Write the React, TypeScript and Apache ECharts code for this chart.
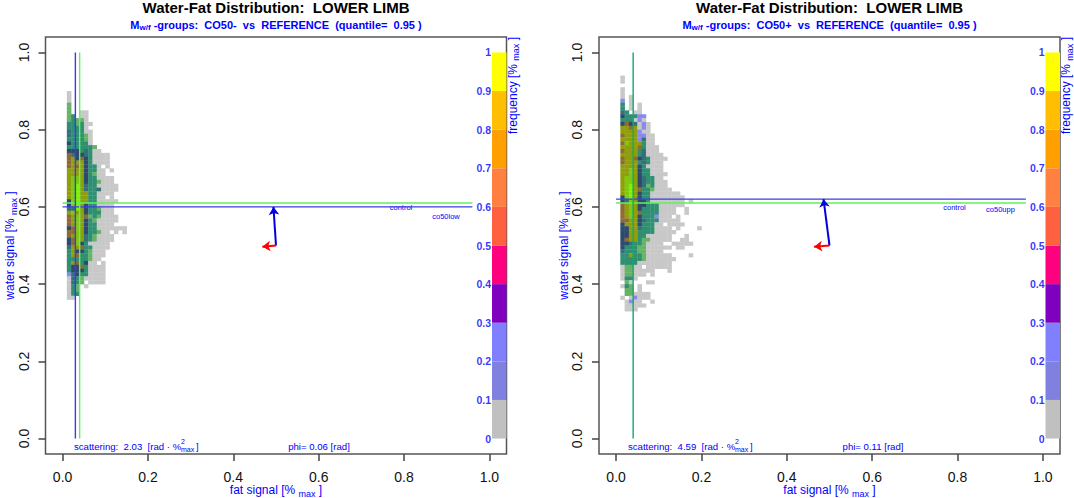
import { useEffect, useRef } from 'react'
import * as echarts from 'echarts'

// cell codes used in the row strings below, one char per 0.01 of fat signal
const cellCodes = 'gvltdnboyY'
const cellColors = ['#c8c8c8', '#8a8aee', '#66b266', '#2f8f72', '#35707a', '#2d4a6c', '#8f6a35', '#8f9f0c', '#7fc810', '#80f000']

// rows run downwards, the first one starts at firstRowTop and each is 0.01 of water signal high
const leftFirstRowTop = 0.9
const leftRows = [
  'g', 'g', 'g', 'l', 'l', 'l  gg', 'lt gg', 'ltllg', 'ttltgg', 'ttttg',
  'dtttgg', 'dtttlg', 'ttttlg', 'nttttg', 'ttttttl', 'nnntdtgg', 'bdnndtgggg', 'bonbntgggg', 'booontgggg', 'bobonttg g',
  'oooonttgg g', 'oooontlgg', 'oyyonttgggg', 'oyyonttlggg', 'oyYodttggggg', 'oyYodttdgggg', 'oyYoottgggg', 'oyYoottgg g', 'nyYoottggggg', 'nyYonttgggg',
  'ddYonttlggg', 'oyoontttggg', 'boyobltlgggg', 'boyontlggggg', 'boyonttgggg', 'nbyonttggggggg', 'bbyonttlgg g g', 'boyodtlgggg', 'nbyodtlgggg', 'nbyntggggg',
  'doobttgggg', 'tonntlggg', 'tobttlggg', 'tttttlgg', 'tobtngg g', 'tnnbtgggg', 'tnnntgggg', 'vdnttgggg', 'gdtlggggg', 'gdtl gggg',
  'gtl g', 'gtl', 'gtt', 'gg',
]

const rightFirstRowTop = 0.94
const rightRows = [
  'g', 'g', '', 'g', 'g', 'g g', 'v g', 't g g', 't g g', 'dt gg',
  'ntttvv', 'tttgvg', 'nbndgvg', 'oobogvg', 'oooovgg', 'booovvgg', 'oooovdgg', 'byoootgg', 'oooobtggg', 'boootdggg',
  'ooootdgggg', 'boobndtgggg', 'boootdtggg', 'oooontgggg', 'ooyonttggg', 'ooyonttgggg', 'oyyondttgg', 'oyyondttggg', 'oyYondltggg', 'oyYobttlgggg',
  'oyYonttggggggg', 'nyYonttgggggggg', 'ndyonntgggggggg g', 'boyonntttgggggg', 'boyonttttgggg  g', 'boyobttttgggg  g', 'boyontttvggg g', 'bboondtttggggg', 'nooontttgg gggg', 'nnoodtttgggg g    g',
  'nnoottttggggg', 'nnoottgggggg   g', 'nbootllggggg  gg', 'nndttlgggg  ggggg', 'ntttllgggggg gg', 'dtttllgggg', 'ttottlgggggg    g', 'tttttlggggggg', 'ttttgggggggg', 'gllgg gggggg',
  'gllggggg   g', 'gllggg g', 'gttg', ' lg   gg', 'gtl g', ' ll g', ' llgggg', 'g gvggg', ' gvgg  g', ' ggggg', ' ggg',
]

const xTicks = [0, 0.2, 0.4, 0.6, 0.8, 1]
const yTicks = [0, 0.2, 0.4, 0.6, 0.8, 1]

const colorBarLevels = [0, 0.1, 0.2, 0.3, 0.4, 0.5, 0.6, 0.7, 0.8, 0.9, 1]
const colorBarColors = ['#c0c0c0', '#8080e0', '#8080ff', '#7f00bf', '#ff007f', '#ff6040', '#ff8040', '#ff9f00', '#ffbf00', '#ffff00']

// reference lines: fat position, water position
const leftVertical = { blue: 0.03, green: 0.04 }
const leftHorizontal = { blue: 0.6, green: 0.61 }
const rightVertical = { blue: 0.04, green: 0.04 }
const rightHorizontal = { blue: 0.62, green: 0.61 }

const arrowStart = [0.5, 0.5]
const leftBlueTip = [0.494, 0.6]
const leftRedTip = [0.468, 0.497]
const rightBlueTip = [0.486, 0.62]
const rightRedTip = [0.464, 0.497]

const BLUE = '#0000ff'
const LINE_BLUE = '#3c3ce6'
const LINE_GREEN = '#60f060'
const OVERLAP_GREEN = '#14a86c'

function rowsToCells(rows: string[], firstRowTop: number) {
  const cells: number[][] = []
  rows.forEach((row, r) => {
    row.split('').forEach((ch, c) => {
      const code = cellCodes.indexOf(ch)
      if (code >= 0) cells.push([0.01 + c * 0.01, firstRowTop - r * 0.01, code])
    })
  })
  return cells
}

function plainLine(idx: number, data: number[][], color: string) {
  return {
    type: 'line',
    xAxisIndex: idx,
    yAxisIndex: idx,
    data,
    showSymbol: false,
    silent: true,
    lineStyle: { color, width: 1.4 },
  }
}

function arrow(idx: number, tip: number[], color: string) {
  return {
    type: 'line',
    xAxisIndex: idx,
    yAxisIndex: idx,
    data: [],
    markLine: {
      silent: true,
      animation: false,
      symbol: ['none', 'arrow'],
      symbolSize: 8,
      label: { show: false },
      lineStyle: { color, width: 2, type: 'solid' },
      data: [[{ coord: arrowStart }, { coord: tip }]],
    },
  }
}

function panelSeries(idx: number, rows: string[], top: number, vert: any, horiz: any, blueTip: number[], redTip: number[]) {
  const sameVertical = vert.blue === vert.green
  return [
    {
      type: 'custom',
      xAxisIndex: idx,
      yAxisIndex: idx,
      silent: true,
      data: rowsToCells(rows, top),
      encode: { x: 0, y: 1 },
      renderItem: (_: any, api: any) => {
        const p = api.coord([api.value(0), api.value(1)])
        const s = api.size([0.01, 0.01])
        return {
          type: 'rect',
          shape: { x: p[0], y: p[1], width: s[0] + 0.3, height: s[1] + 0.3 },
          style: { fill: cellColors[api.value(2)] },
        }
      },
    },
    {
      type: 'custom',
      xAxisIndex: idx,
      yAxisIndex: idx,
      silent: true,
      data: colorBarColors.map((_, i) => [1.006, colorBarLevels[i], colorBarLevels[i + 1], i]),
      encode: { x: 0, y: 2 },
      renderItem: (_: any, api: any) => {
        const p0 = api.coord([api.value(0), api.value(2)])
        const p1 = api.coord([1.04, api.value(1)])
        return {
          type: 'rect',
          shape: { x: p0[0], y: p0[1], width: p1[0] - p0[0], height: p1[1] - p0[1] },
          style: { fill: colorBarColors[api.value(3)] },
        }
      },
    },
    {
      type: 'scatter',
      xAxisIndex: idx,
      yAxisIndex: idx,
      silent: true,
      symbolSize: 0,
      data: colorBarLevels.map((v) => [1.006, v]),
      label: {
        show: true,
        position: 'left',
        distance: 1,
        color: BLUE,
        fontSize: 10.5,
        fontWeight: 'bold',
        formatter: (p: any) => String(p.value[1]),
      },
    },
    plainLine(idx, [[0, horiz.green], [0.96, horiz.green]], LINE_GREEN),
    plainLine(idx, [[0, horiz.blue], [0.96, horiz.blue]], LINE_BLUE),
    ...(sameVertical
      ? [plainLine(idx, [[vert.green, 0], [vert.green, 1]], OVERLAP_GREEN)]
      : [
          plainLine(idx, [[vert.green, 0], [vert.green, 1]], LINE_GREEN),
          plainLine(idx, [[vert.blue, 0], [vert.blue, 1]], LINE_BLUE),
        ]),
    arrow(idx, blueTip, '#0000e0'),
    arrow(idx, redTip, '#ff0000'),
  ]
}

function panelAxes(idx: number) {
  const common = {
    gridIndex: idx,
    type: 'value',
    min: -0.04,
    max: 1.04,
    splitLine: { show: false },
    axisLine: { show: false, onZero: false },
  }
  return {
    x: {
      ...common,
      position: 'bottom',
      axisTick: { show: true, length: 7, customValues: xTicks, lineStyle: { color: '#444', width: 1.5 } },
      axisLabel: { customValues: xTicks, margin: 16, fontSize: 14, color: '#111', formatter: (v: number) => v.toFixed(1) },
    },
    y: {
      ...common,
      position: 'left',
      axisTick: { show: true, length: 7, customValues: yTicks, lineStyle: { color: '#444', width: 1.5 } },
      axisLabel: { customValues: yTicks, rotate: 90, margin: 15, fontSize: 14, color: '#111', formatter: (v: number) => v.toFixed(1) },
    },
  }
}

const subRich = {
  a: { fontSize: 11, fontWeight: 'bold', color: BLUE, lineHeight: 14, verticalAlign: 'middle' },
  sub: { fontSize: 8, fontWeight: 'bold', color: BLUE, lineHeight: 14, verticalAlign: 'bottom', padding: [5, 0, 0, 0] },
}
const nameRich = {
  a: { fontSize: 12, color: BLUE, lineHeight: 16, verticalAlign: 'middle' },
  sub: { fontSize: 9, color: BLUE, lineHeight: 16, verticalAlign: 'bottom', padding: [5, 0, 0, 0] },
}

function label(x: number, y: number, text: string, extra: any = {}, rotation = 0) {
  return {
    type: 'text',
    x,
    y,
    rotation,
    silent: true,
    style: { text, fill: BLUE, align: 'center', verticalAlign: 'middle', fontFamily: 'Liberation Sans', ...extra },
  }
}

function panelText(left: number, group: string, scatter: string, phi: string, phiX: number, scatterX: number, controlX: number, lowX: number, lowName: string, lowY: number) {
  const right = left + 461
  const mid = left + 230.5
  const up = Math.PI / 2
  return [
    label(mid, 7.5, 'Water-Fat Distribution:  LOWER LIMB', { fill: '#000', fontSize: 15, fontWeight: 'bold' }),
    label(mid, 24.5, `{a|M}{sub|w/f}{a| -groups:  ${group}  vs  REFERENCE  (quantile=  0.95 )}`, { rich: subRich }),
    label(mid, 490, '{a|fat signal [% }{sub|max}{a| ]}', { rich: nameRich }),
    label(left - 35.3, 245.5, '{a|water signal [% }{sub|max}{a| ]}', { rich: nameRich }, up),
    label(right + 6, 85.5, '{a|frequency [% }{sub|max}{a| ]}', { rich: nameRich }, up),
    label(scatterX, 446.5, `scattering:  ${scatter}  [rad · %`, { fontSize: 9.6, align: 'left' }),
    label(scatterX + 107, 441, '2', { fontSize: 7, align: 'left' }),
    label(scatterX + 107, 449.5, 'max', { fontSize: 7, align: 'left' }),
    label(scatterX + 122, 446.5, ']', { fontSize: 9.6, align: 'left' }),
    label(phiX, 446.5, `phi= ${phi} [rad]`, { fontSize: 9.6 }),
    label(controlX, 207.7, 'control', { fontSize: 7.5 }),
    label(lowX, lowY, lowName, { fontSize: 7.5 }),
  ]
}

export default function App() {
  const chartRef = useRef<HTMLDivElement>(null)

  useEffect(() => {
    if (!chartRef.current) return
    const chart = echarts.init(chartRef.current, undefined, { renderer: 'svg' })
    const a0 = panelAxes(0)
    const a1 = panelAxes(1)

    chart.setOption({
      animation: false,
      textStyle: { fontFamily: 'Liberation Sans' },
      grid: [
        { left: 45.5, top: 37, width: 461, height: 417, show: true, borderColor: '#555', borderWidth: 1.5, backgroundColor: 'transparent' },
        { left: 599, top: 37, width: 461, height: 417, show: true, borderColor: '#555', borderWidth: 1.5, backgroundColor: 'transparent' },
      ],
      xAxis: [a0.x, a1.x],
      yAxis: [a0.y, a1.y],
      series: [
        ...panelSeries(0, leftRows, leftFirstRowTop, leftVertical, leftHorizontal, leftBlueTip, leftRedTip),
        ...panelSeries(1, rightRows, rightFirstRowTop, rightVertical, rightHorizontal, rightBlueTip, rightRedTip),
      ],
      graphic: [
        ...panelText(45.5, 'CO50-', '2.03', '0.06', 319, 74, 401, 446, 'co50low', 216.7),
        ...panelText(599, 'CO50+', '4.59', '0.11', 873, 628, 954.5, 1000.5, 'co50upp', 209.3),
      ],
    })

    return () => {
      chart.dispose()
    }
  }, [])

  return <div ref={chartRef} style={{ position: 'absolute', left: 0, top: 0, width: 1074, height: 498 }}></div>
}
